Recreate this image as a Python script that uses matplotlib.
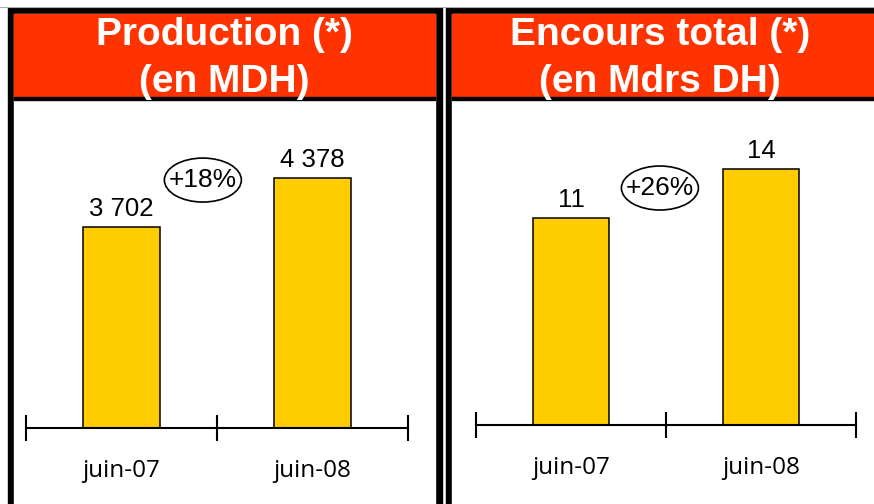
import matplotlib
matplotlib.use("Agg")
import matplotlib.pyplot as plt
from matplotlib.patches import Rectangle, Ellipse

# Données
periodes = ["juin-07", "juin-08"]
production = [3702, 4378]
production_labels = ["3 702", "4 378"]
encours = [11, 14]
encours_labels = ["11", "14"]
variations = ["+18%", "+26%"]
titres = [("Production (*)", "(en MDH)"), ("Encours total (*)", "(en Mdrs DH)")]

W, H = 874, 504
ROUGE = "#FF3300"
JAUNE = "#FFCC00"

fig = plt.figure(figsize=(W / 100, H / 100), dpi=100)

# fond : cadres et bandeaux (coordonnées en pixels)
bg = fig.add_axes([0, 0, 1, 1], zorder=0)
bg.set_xlim(0, W)
bg.set_ylim(H, 0)
bg.axis("off")
bg.plot([0, W], [6.5, 6.5], color="#b0b0b0", lw=0.8)

panneaux = [(8, 442, 224), (446, W + 20, 660)]
for (x0, x1, xc), (t1, t2) in zip(panneaux, titres):
    bg.add_patch(Rectangle((x0, 8), x1 - x0, 600, color="black"))
    bg.add_patch(Rectangle((x0 + 6, 14), x1 - x0 - 13, 600, color="white"))
    bg.add_patch(Rectangle((x0 + 6, 14), x1 - x0 - 13, 83, color=ROUGE))
    bg.add_patch(Rectangle((x0 + 6, 97), x1 - x0 - 13, 2.5, color="black"))
    for y, t in [(45, t1), (92, t2)]:
        bg.text(xc, y, t, ha="center", va="baseline", color="white",
                fontsize=28, fontweight="bold", family="Liberation Sans")


def panel(rect, valeurs, labels, ylim, variation, ell_pos):
    ax = fig.add_axes(rect, zorder=1)
    ax.set_facecolor("none")
    x = range(len(valeurs))
    base = ylim[0]
    ax.bar(x, [v - base for v in valeurs], bottom=base, width=0.4,
           color=JAUNE, edgecolor="black", linewidth=1.1)
    for xi, v, lab in zip(x, valeurs, labels):
        ax.annotate(lab, (xi, v), xytext=(0, 8), textcoords="offset points",
                    ha="center", va="baseline", fontsize=18.5,
                    family="Liberation Sans")
    ax.set_xlim(-0.5, 1.5)
    ax.set_ylim(*ylim)
    for s in ["left", "right", "top"]:
        ax.spines[s].set_visible(False)
    ax.spines["bottom"].set_linewidth(1.5)
    ax.set_yticks([])
    ax.set_xticks(list(x))
    ax.set_xticklabels(periodes, fontsize=17.5, family="Open Sans")
    ax.tick_params(axis="x", which="major", length=0, pad=22)
    ax.set_xticks([-0.5, 0.5, 1.5], minor=True)
    ax.tick_params(axis="x", which="minor", direction="inout", length=19,
                   width=1.5)
    ax.add_patch(Ellipse(ell_pos, 77 / (rect[2] * W), 44 / (rect[3] * H),
                         transform=ax.transAxes, fill=False, lw=1.2,
                         clip_on=False))
    ax.text(ell_pos[0], ell_pos[1], variation, transform=ax.transAxes,
            ha="center", va="center", fontsize=19, family="Liberation Sans")
    return ax


panel([26 / W, (H - 428) / H, 382 / W, 308 / H], production,
      production_labels, (928, 5177), variations[0], (0.463, 0.805))
panel([476 / W, (H - 425) / H, 380 / W, 305 / H], encours,
      encours_labels, (-1.67, 17.0), variations[1], (0.484, 0.777))

fig.savefig("out.png", dpi=100)
